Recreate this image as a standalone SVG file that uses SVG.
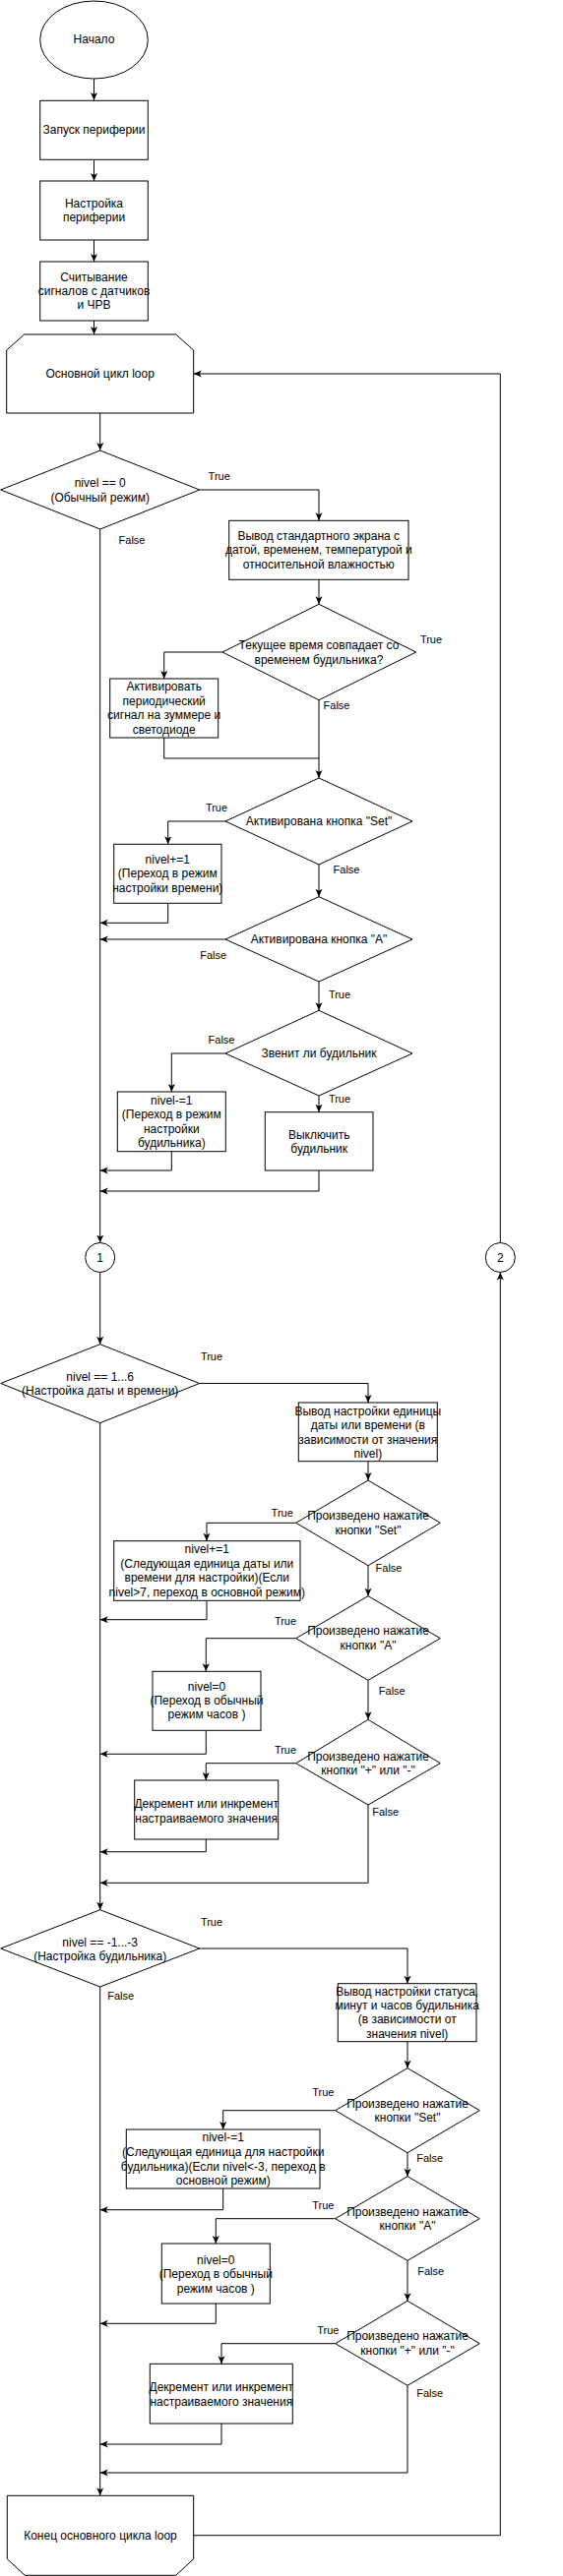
<svg xmlns="http://www.w3.org/2000/svg" width="572" height="2619" viewBox="0 0 572 2619">
<style>
.s{fill:#fff;stroke:#000;stroke-width:1}
.t{font-family:"Liberation Sans",Arial,Helvetica,sans-serif;font-size:12px;fill:#000;text-anchor:middle;dominant-baseline:central}
.l{font-family:"Liberation Sans",Arial,Helvetica,sans-serif;font-size:11px;fill:#000;text-anchor:middle;dominant-baseline:central}
.c{fill:none;stroke:#000;stroke-width:1}
</style>
<defs>
<marker id="a" markerUnits="userSpaceOnUse" markerWidth="9" markerHeight="8" refX="8" refY="3.5" orient="auto">
<path d="M0,0 L8,3.5 L0,7 L2,3.5 z" fill="#000"/>
</marker>
</defs>
<rect width="572" height="2619" fill="#fff"/>

<g id="connectors">
<path class="c" d="M95.5,80 V102" marker-end="url(#a)"/>
<path class="c" d="M95.5,162.3 V184" marker-end="url(#a)"/>
<path class="c" d="M95.5,244 V266" marker-end="url(#a)"/>
<path class="c" d="M95.5,326 V340" marker-end="url(#a)"/>
<path class="c" d="M101.7,420 V458" marker-end="url(#a)"/>
<path class="c" d="M202.7,498 H324 V529.3" marker-end="url(#a)"/>
<path class="c" d="M324,589.3 V614.3" marker-end="url(#a)"/>
<path class="c" d="M226,663 H166.7 V690" marker-end="url(#a)"/>
<path class="c" d="M166.7,750 V771 H324"/>
<path class="c" d="M324,711.7 V791" marker-end="url(#a)"/>
<path class="c" d="M229,835 H170.7 V858.3" marker-end="url(#a)"/>
<path class="c" d="M170.7,918.3 V938.3 H101.7" marker-end="url(#a)"/>
<path class="c" d="M324,879 V911.7" marker-end="url(#a)"/>
<path class="c" d="M229,955 H101.7" marker-end="url(#a)"/>
<path class="c" d="M324,998 V1027.3" marker-end="url(#a)"/>
<path class="c" d="M229,1071 H174.3 V1110" marker-end="url(#a)"/>
<path class="c" d="M174.3,1170.7 V1190 H101.7" marker-end="url(#a)"/>
<path class="c" d="M324,1114 V1130.7" marker-end="url(#a)"/>
<path class="c" d="M324,1190 V1211 H101.7" marker-end="url(#a)"/>
<path class="c" d="M101.7,538 V1263.5" marker-end="url(#a)"/>
<path class="c" d="M101.7,1293.5 V1366.7" marker-end="url(#a)"/>
<path class="c" d="M202.7,1406.5 H374 V1426" marker-end="url(#a)"/>
<path class="c" d="M374,1485.7 V1505" marker-end="url(#a)"/>
<path class="c" d="M300.7,1548.3 H210 V1566.7" marker-end="url(#a)"/>
<path class="c" d="M210,1627.3 V1646.7 H101.7" marker-end="url(#a)"/>
<path class="c" d="M374,1591.7 V1622.7" marker-end="url(#a)"/>
<path class="c" d="M300.7,1665.7 H209.3 V1699.3" marker-end="url(#a)"/>
<path class="c" d="M209.3,1759.3 V1783.3 H101.7" marker-end="url(#a)"/>
<path class="c" d="M374,1708.3 V1748.3" marker-end="url(#a)"/>
<path class="c" d="M300.7,1792.7 H209.3 V1810" marker-end="url(#a)"/>
<path class="c" d="M209.3,1870 V1882.7 H101.7" marker-end="url(#a)"/>
<path class="c" d="M374,1835 V1914.3 H101.7" marker-end="url(#a)"/>
<path class="c" d="M101.7,1446.7 V1941.7" marker-end="url(#a)"/>
<path class="c" d="M202.7,1981 H414 V2016.7" marker-end="url(#a)"/>
<path class="c" d="M414,2075.7 V2102.7" marker-end="url(#a)"/>
<path class="c" d="M340.7,2145.7 H226.7 V2165" marker-end="url(#a)"/>
<path class="c" d="M226.7,2225 V2246.7 H101.7" marker-end="url(#a)"/>
<path class="c" d="M414,2188.7 V2212.7" marker-end="url(#a)"/>
<path class="c" d="M340.7,2255.7 H219.3 V2281" marker-end="url(#a)"/>
<path class="c" d="M219.3,2342 V2362.3 H101.7" marker-end="url(#a)"/>
<path class="c" d="M414,2298.3 V2339.3" marker-end="url(#a)"/>
<path class="c" d="M340.7,2382.7 H225 V2403.3" marker-end="url(#a)"/>
<path class="c" d="M225,2464 V2485 H101.7" marker-end="url(#a)"/>
<path class="c" d="M414,2425.3 V2514 H101.7" marker-end="url(#a)"/>
<path class="c" d="M101.7,2020 V2537.3" marker-end="url(#a)"/>
<path class="c" d="M196.7,2577.7 H508.3 V1293.5" marker-end="url(#a)"/>
<path class="c" d="M508.3,1263.5 V380 H196.7" marker-end="url(#a)"/>
</g>

<g id="edge-labels">
<text class="l" x="222.7" y="484">True</text>
<text class="l" x="134" y="549.3">False</text>
<text class="l" x="438" y="650">True</text>
<text class="l" x="342" y="716.7">False</text>
<text class="l" x="220" y="820.7">True</text>
<text class="l" x="352" y="884">False</text>
<text class="l" x="216.7" y="970.7">False</text>
<text class="l" x="345" y="1010.7">True</text>
<text class="l" x="225" y="1056.7">False</text>
<text class="l" x="345" y="1116.7">True</text>
<text class="l" x="215" y="1379.3">True</text>
<text class="l" x="286.7" y="1538.3">True</text>
<text class="l" x="395" y="1594">False</text>
<text class="l" x="290" y="1648.3">True</text>
<text class="l" x="398.3" y="1719">False</text>
<text class="l" x="290" y="1779.3">True</text>
<text class="l" x="391.7" y="1841.7">False</text>
<text class="l" x="215" y="1954">True</text>
<text class="l" x="122.7" y="2029.3">False</text>
<text class="l" x="328.3" y="2127.3">True</text>
<text class="l" x="436.7" y="2194.3">False</text>
<text class="l" x="328.3" y="2241.7">True</text>
<text class="l" x="437.7" y="2309">False</text>
<text class="l" x="333.3" y="2369">True</text>
<text class="l" x="436.7" y="2433.3">False</text>
</g>

<g id="start">
<ellipse class="s" cx="95.5" cy="40.5" rx="54.8" ry="39.5"/>
<text class="t" x="95.5" y="40">Начало</text>
</g>
<g id="init-periph">
<rect class="s" x="40.7" y="102.3" width="109.6" height="60"/>
<text class="t" x="95.5" y="132.3">Запуск периферии</text>
</g>
<g id="setup-periph">
<rect class="s" x="40.7" y="184" width="109.6" height="60"/>
<text class="t" x="95.5" y="206.8">Настройка</text>
<text class="t" x="95.5" y="221.2">периферии</text>
</g>
<g id="read-sensors">
<rect class="s" x="40.7" y="266" width="109.6" height="60"/>
<text class="t" x="95.5" y="281.6">Считывание</text>
<text class="t" x="95.5" y="296">сигналов с датчиков</text>
<text class="t" x="95.5" y="310.4">и ЧРВ</text>
</g>
<g id="loop-start">
<polygon class="s" points="24.7,340 178.7,340 196.7,356 196.7,420 6.7,420 6.7,356"/>
<text class="t" x="101.7" y="380">Основной цикл loop</text>
</g>

<g id="dec-mode0">
<polygon class="s" points="101.7,458 202.7,498 101.7,538 0.7,498"/>
<text class="t" x="101.7" y="491.2">nivel == 0</text>
<text class="t" x="101.7" y="505.6">(Обычный режим)</text>
</g>
<g id="show-standard">
<rect class="s" x="232.7" y="529.3" width="182.3" height="60"/>
<text class="t" x="323.8" y="544.9">Вывод стандартного экрана с</text>
<text class="t" x="323.8" y="559.3">датой, временем, температурой и</text>
<text class="t" x="323.8" y="573.7">относительной влажностью</text>
</g>
<g id="dec-alarm-time">
<polygon class="s" points="324,614.3 422.7,663 324,711.7 226,663"/>
<text class="t" x="324" y="656.1">Текущее время совпадает со</text>
<text class="t" x="324" y="670.5">временем будильника?</text>
</g>
<g id="activate-signal">
<rect class="s" x="111.7" y="690" width="110" height="60"/>
<text class="t" x="166.7" y="698.4">Активировать</text>
<text class="t" x="166.7" y="712.8">периодический</text>
<text class="t" x="166.7" y="727.2">сигнал на зуммере и</text>
<text class="t" x="166.7" y="741.6">светодиоде</text>
</g>
<g id="dec-set1">
<polygon class="s" points="324,791 419,835 324,879 229,835"/>
<text class="t" x="324" y="835">Активирована кнопка "Set"</text>
</g>
<g id="inc-level1">
<rect class="s" x="115.7" y="858.3" width="109.3" height="60"/>
<text class="t" x="170.3" y="873.9">nivel+=1</text>
<text class="t" x="170.3" y="888.3">(Переход в режим</text>
<text class="t" x="170.3" y="902.7">настройки времени)</text>
</g>
<g id="dec-a1">
<polygon class="s" points="324,911.7 419,955 324,998 229,955"/>
<text class="t" x="324" y="955">Активирована кнопка "A"</text>
</g>
<g id="dec-ringing">
<polygon class="s" points="324,1027.3 419,1071 324,1114 229,1071"/>
<text class="t" x="324" y="1071">Звенит ли будильник</text>
</g>
<g id="dec-level1">
<rect class="s" x="119.3" y="1110" width="110" height="60.7"/>
<text class="t" x="174.3" y="1118.9">nivel-=1</text>
<text class="t" x="174.3" y="1133.3">(Переход в режим</text>
<text class="t" x="174.3" y="1147.7">настройки</text>
<text class="t" x="174.3" y="1162.1">будильника)</text>
</g>
<g id="alarm-off">
<rect class="s" x="269.3" y="1130.7" width="109.7" height="59.3"/>
<text class="t" x="324.2" y="1153.6">Выключить</text>
<text class="t" x="324.2" y="1168">будильник</text>
</g>
<g id="conn-1">
<circle class="s" cx="101.7" cy="1278.5" r="15"/>
<text class="t" x="101.7" y="1278.5">1</text>
</g>
<g id="conn-2">
<circle class="s" cx="508.3" cy="1278.5" r="15"/>
<text class="t" x="508.3" y="1278.5">2</text>
</g>

<g id="dec-mode-datetime">
<polygon class="s" points="101.7,1366.7 202.7,1406.5 101.7,1446.7 0.7,1406.5"/>
<text class="t" x="101.7" y="1399.5">nivel == 1...6</text>
<text class="t" x="101.7" y="1413.9">(Настройка даты и времени)</text>
</g>
<g id="show-datetime">
<rect class="s" x="303.3" y="1426" width="141" height="59.7"/>
<text class="t" x="373.8" y="1435">Вывод настройки единицы</text>
<text class="t" x="373.8" y="1449.4">даты или времени (в</text>
<text class="t" x="373.8" y="1463.8">зависимости от значения</text>
<text class="t" x="373.8" y="1478.2">nivel)</text>
</g>
<g id="dec-set2">
<polygon class="s" points="374,1505 447.3,1548.3 374,1591.7 300.7,1548.3"/>
<text class="t" x="374" y="1541.1">Произведено нажатие</text>
<text class="t" x="374" y="1555.5">кнопки "Set"</text>
</g>
<g id="inc-level2">
<rect class="s" x="115.7" y="1566.7" width="189.3" height="60.6"/>
<text class="t" x="210.3" y="1575">nivel+=1</text>
<text class="t" x="210.3" y="1589.6">(Следующая единица даты или</text>
<text class="t" x="210.3" y="1604.2">времени для настройки)(Если</text>
<text class="t" x="210.3" y="1618.8">nivel&gt;7, переход в основной режим)</text>
</g>
<g id="dec-a2">
<polygon class="s" points="374,1622.7 447.3,1665.7 374,1708.3 300.7,1665.7"/>
<text class="t" x="374" y="1658.3">Произведено нажатие</text>
<text class="t" x="374" y="1672.7">кнопки "A"</text>
</g>
<g id="reset-level2">
<rect class="s" x="155" y="1699.3" width="110" height="60"/>
<text class="t" x="210" y="1714.6">nivel=0</text>
<text class="t" x="210" y="1729">(Переход в обычный</text>
<text class="t" x="210" y="1743.4">режим часов )</text>
</g>
<g id="dec-pm2">
<polygon class="s" points="374,1748.3 447.3,1792.7 374,1835 300.7,1792.7"/>
<text class="t" x="374" y="1785.5">Произведено нажатие</text>
<text class="t" x="374" y="1800">кнопки "+" или "-"</text>
</g>
<g id="adjust2">
<rect class="s" x="136.7" y="1810" width="146" height="60"/>
<text class="t" x="209.7" y="1833.5">Декремент или инкремент</text>
<text class="t" x="209.7" y="1848.5">настраиваемого значения</text>
</g>

<g id="dec-mode-alarm">
<polygon class="s" points="101.7,1941.7 202.7,1981 101.7,2020 0.7,1981"/>
<text class="t" x="101.7" y="1974.5">nivel == -1...-3</text>
<text class="t" x="101.7" y="1989">(Настройка будильника)</text>
</g>
<g id="show-alarm">
<rect class="s" x="343.3" y="2016.7" width="140.7" height="59"/>
<text class="t" x="413.7" y="2024.6">Вывод настройки статуса,</text>
<text class="t" x="413.7" y="2039">минут и часов будильника</text>
<text class="t" x="413.7" y="2053.4">(в зависимости от</text>
<text class="t" x="413.7" y="2067.8">значения nivel)</text>
</g>
<g id="dec-set3">
<polygon class="s" points="414,2102.7 487.3,2145.7 414,2188.7 340.7,2145.7"/>
<text class="t" x="414" y="2138.5">Произведено нажатие</text>
<text class="t" x="414" y="2153">кнопки "Set"</text>
</g>
<g id="dec-level3">
<rect class="s" x="128.3" y="2165" width="196.7" height="60"/>
<text class="t" x="226.7" y="2173.4">nivel-=1</text>
<text class="t" x="226.7" y="2188">(Следующая единица для настройки</text>
<text class="t" x="226.7" y="2202.6">будильника)(Если nivel&lt;-3, переход в</text>
<text class="t" x="226.7" y="2217.2">основной режим)</text>
</g>
<g id="dec-a3">
<polygon class="s" points="414,2212.7 487.3,2255.7 414,2298.3 340.7,2255.7"/>
<text class="t" x="414" y="2248.5">Произведено нажатие</text>
<text class="t" x="414" y="2263">кнопки "A"</text>
</g>
<g id="reset-level3">
<rect class="s" x="164.3" y="2281" width="110" height="61"/>
<text class="t" x="219.3" y="2297.6">nivel=0</text>
<text class="t" x="219.3" y="2312.2">(Переход в обычный</text>
<text class="t" x="219.3" y="2326.8">режим часов )</text>
</g>
<g id="dec-pm3">
<polygon class="s" points="414,2339.3 487.3,2382.7 414,2425.3 340.7,2382.7"/>
<text class="t" x="414" y="2374.8">Произведено нажатие</text>
<text class="t" x="414" y="2389.6">кнопки "+" или "-"</text>
</g>
<g id="adjust3">
<rect class="s" x="152.3" y="2403.3" width="145" height="60.7"/>
<text class="t" x="224.8" y="2427">Декремент или инкремент</text>
<text class="t" x="224.8" y="2442">настраиваемого значения</text>
</g>
<g id="loop-end">
<polygon class="s" points="7.3,2537.3 196.7,2537.3 196.7,2601.7 178.7,2618.3 25.3,2618.3 7.3,2601.7"/>
<text class="t" x="102" y="2577.7">Конец основного цикла loop</text>
</g>
</svg>
